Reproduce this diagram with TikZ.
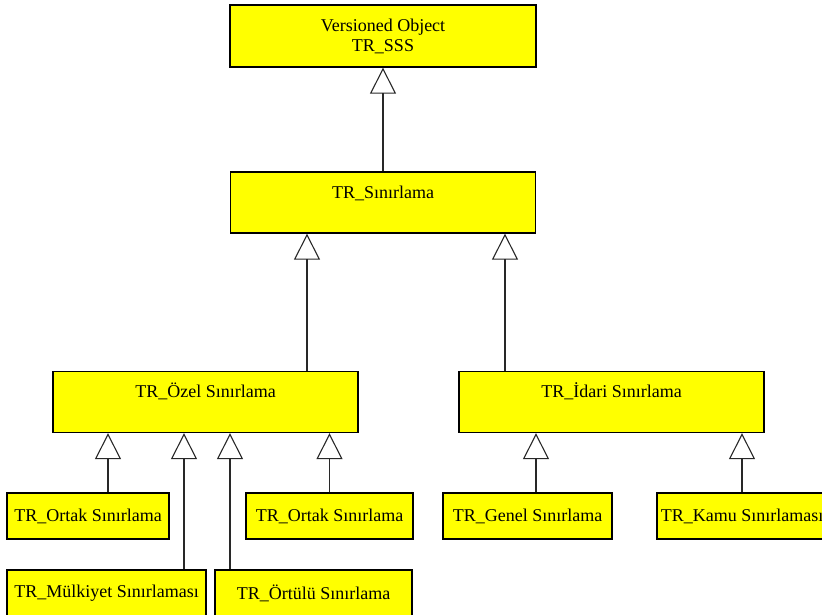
\documentclass[tikz,border=0pt]{standalone}
\usepackage{fontspec}
\setmainfont{Liberation Serif}
\usetikzlibrary{arrows.meta}

\definecolor{boxyellow}{RGB}{255,255,0}
\definecolor{edgegray}{RGB}{40,40,40}

\begin{document}
\begin{tikzpicture}[x=1pt, y=-1pt,
		classbox/.style={draw=black, line width=1.3pt, fill=boxyellow, rectangle,
			font=\fontsize{18}{20}\selectfont, inner sep=3pt},
		bigbox/.style={classbox, minimum width=305pt, text height=19pt, text depth=28pt, inner ysep=7pt},
		smallbox/.style={classbox, minimum height=46pt},
		isa/.style={draw=edgegray, line width=1.1pt, -{Triangle[open, length=26pt, width=26pt, line width=1.1pt]}}]
				\useasboundingbox (0,0) rectangle (822,615);
				\clip (0,0) rectangle (822,615);
				
				% Top classes
				\node[bigbox, align=center, minimum width=306pt, text height=40pt, text depth=8pt] (vobj) at (383, 36) {Versioned Object\\TR\_SSS};
				\node[bigbox] (sinir) at (383, 202.5) {TR\_Sınırlama};
				
				% Second level
				\node[bigbox] (ozel) at (205.5, 402) {TR\_Özel Sınırlama};
				\node[bigbox] (idari) at (611.5, 402) {TR\_İdari Sınırlama};
				
				% Leaves
				\node[smallbox, minimum width=162pt] (ortakA) at (88, 516) {TR\_Ortak Sınırlama};
				\node[smallbox, minimum width=167pt] (ortakB) at (329.5, 516) {TR\_Ortak Sınırlama};
				\node[smallbox, minimum width=199pt] (mulk) at (106.5, 593) {TR\_Mülkiyet Sınırlaması};
				\node[smallbox, minimum width=197pt] (ortulu) at (313.5, 593) {TR\_Örtülü Sınırlama};
				\node[smallbox, minimum width=169pt] (genel) at (527.5, 516) {TR\_Genel Sınırlama};
				\node[smallbox, minimum width=170pt] (kamu) at (742, 516) {TR\_Kamu Sınırlaması};
				
				% Generalisation arrows
				\draw[isa] (sinir.north) -- (vobj.south);
				\draw[isa] ([xshift=101.5pt]ozel.north) -- ([xshift=101.5pt]ozel.north |- sinir.south); % to the left of sinir
				\draw[isa] ([xshift=-106.5pt]idari.north) -- ([xshift=-106.5pt]idari.north |- sinir.south);
				
				\draw[isa] ([xshift=20pt]ortakA.north) -- ([xshift=20pt]ortakA.north |- ozel.south);
				\draw[isa] ([xshift=77.5pt]mulk.north) -- ([xshift=77.5pt]mulk.north |- ozel.south);
				\draw[isa] ([xshift=-83.5pt]ortulu.north) -- ([xshift=-83.5pt]ortulu.north |- ozel.south);
				\draw[isa] (ortakB.north) -- (ortakB.north |- ozel.south);
				
				\draw[isa] ([xshift=8.5pt]genel.north) -- ([xshift=8.5pt]genel.north |- idari.south);
				\draw[isa] (kamu.north) -- (kamu.north |- idari.south);
			\end{tikzpicture}
\end{document}
